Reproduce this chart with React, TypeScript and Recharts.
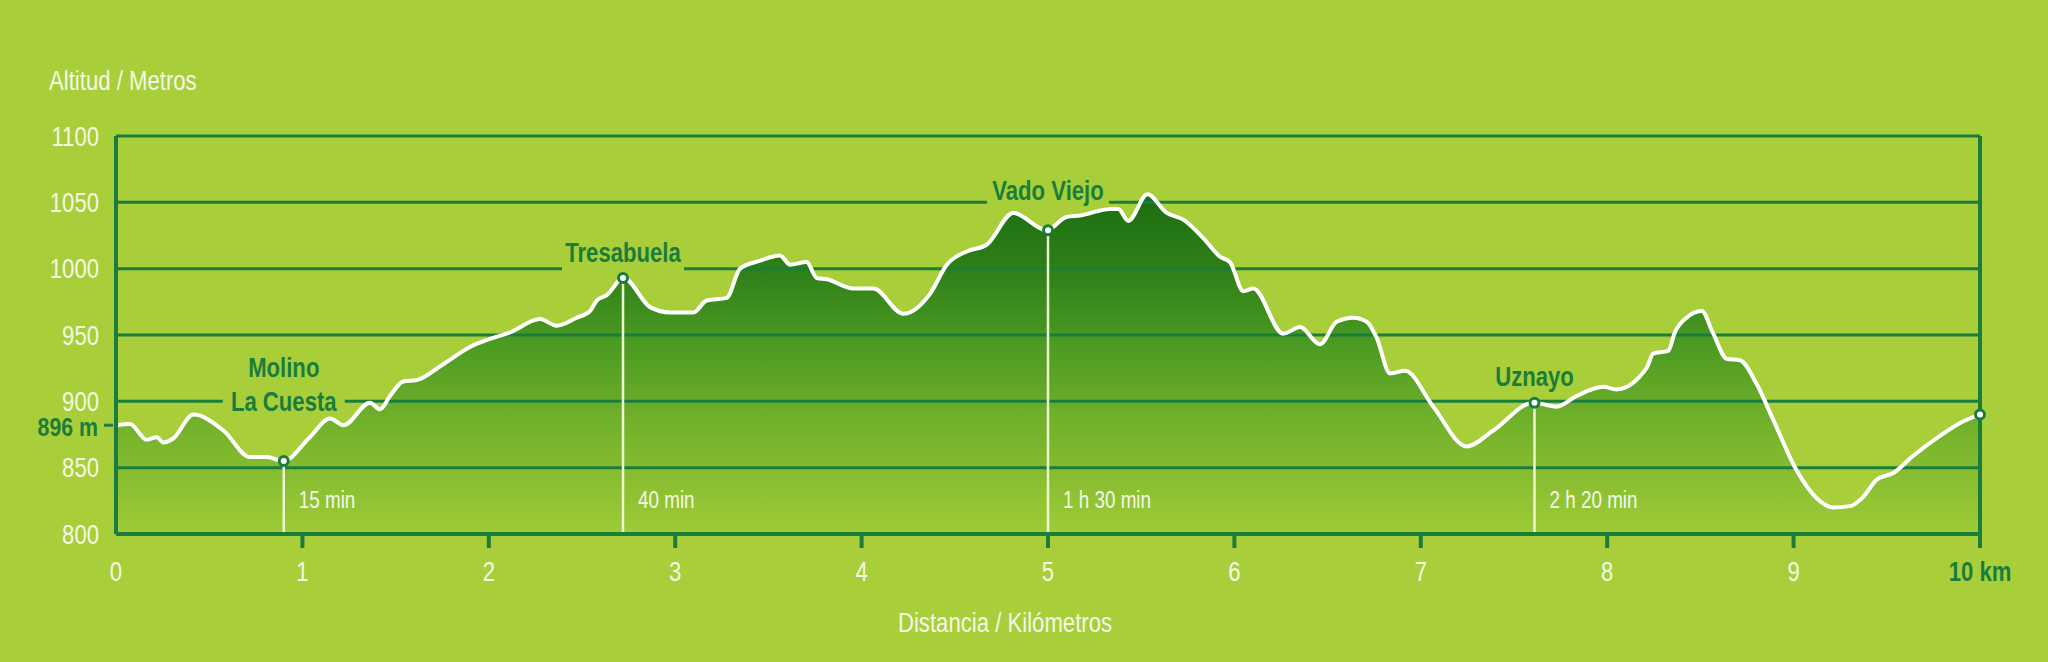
import React from 'react';
import { ComposedChart, Area, Line, XAxis, YAxis, ReferenceLine, ReferenceDot } from 'recharts';

// ---- elevation profile (km, metres) ----
const distanceKm = [
  0, 0.075, 0.165, 0.218, 0.254, 0.307, 0.415, 0.576, 0.719, 0.808,
  0.898, 1.04, 1.148, 1.22, 1.363, 1.416, 1.47, 1.541, 1.613, 1.756,
  1.899, 2.006, 2.114, 2.275, 2.364, 2.472, 2.543, 2.579, 2.633, 2.722,
  2.865, 2.972, 3.097, 3.169, 3.276, 3.348, 3.455, 3.562, 3.616, 3.705,
  3.759, 3.813, 3.956, 4.063, 4.224, 4.367, 4.457, 4.564, 4.671, 4.814,
  4.993, 5.1, 5.172, 5.333, 5.377, 5.431, 5.533, 5.637, 5.726, 5.833,
  5.923, 5.976, 6.048, 6.101, 6.262, 6.352, 6.459, 6.549, 6.638, 6.71,
  6.763, 6.835, 6.915, 7.067, 7.246, 7.389, 7.604, 7.729, 7.836, 7.979,
  8.05, 8.211, 8.247, 8.327, 8.363, 8.426, 8.507, 8.569, 8.641, 8.712,
  8.802, 8.891, 9.016, 9.124, 9.213, 9.303, 9.374, 9.446, 9.535, 9.642,
  9.785, 9.911, 10,
];
const elevationM = [
  882, 883, 871, 873, 869, 872, 890, 878, 858, 858,
  855, 873, 887, 882, 899, 894, 904, 915, 916, 928,
  941, 947, 952, 962, 957, 963, 968, 976, 980, 993,
  971, 967, 967, 976, 978, 1000, 1006, 1010, 1003, 1005,
  993, 992, 985, 985, 966, 981, 1003, 1013, 1018, 1042,
  1029, 1039, 1040, 1045, 1045, 1036, 1056, 1042, 1037, 1023,
  1009, 1005, 983, 985, 951, 956, 943, 960, 963, 960,
  948, 921, 923, 896, 866, 878, 899, 896, 904, 911,
  909, 925, 936, 938, 952, 963, 968, 951, 932, 931,
  913, 886, 848, 827, 820, 821, 828, 841, 846, 859,
  874, 885, 890,
];

// ---- axes ----
const yTicks = [800, 850, 900, 950, 1000, 1050, 1100];
const xTicks = [0, 1, 2, 3, 4, 5, 6, 7, 8, 9, 10];
const xTickLabels = ['0', '1', '2', '3', '4', '5', '6', '7', '8', '9', '10 km'];
const yTitle = 'Altitud / Metros';
const xTitle = 'Distancia / Kilómetros';
const startLabel = '896 m';

// ---- waypoints ----
const waypointNames = [['Molino', 'La Cuesta'], ['Tresabuela'], ['Vado Viejo'], ['Uznayo']];
const waypointKm = [0.9, 2.72, 5.0, 7.61];
const waypointAlt = [855, 993, 1029, 899];
const waypointLabelAlt = [900, 1012, 1059, 919];
const waypointGapAlt: (number | null)[] = [900, 1000, 1050, null];
const waypointTimes = ['15 min', '40 min', '1 h 30 min', '2 h 20 min'];
const timeLabelAlt = 826;
const endKm = 10;
const endAlt = 890;

const data = distanceKm.map((km, i) => ({ km, alt: elevationM[i] }));

const BG = '#a8cf3a';
const GREEN = '#1a7d3c';
const WHITE = '#f4f8e6';
const FONT = "'Liberation Sans', Arial, sans-serif";
const SQ = 0.82; // horizontal condensing

const NText = (p: {
  x: number; y: number; anchor: 'start' | 'middle' | 'end'; size: number;
  bold?: boolean; fill: string; children: React.ReactNode;
}) => (
  <g transform={`translate(${p.x},${p.y}) scale(${SQ},1)`}>
    <text
      x={0}
      y={0}
      dy="0.36em"
      textAnchor={p.anchor}
      fontFamily={FONT}
      fontSize={p.size}
      fontWeight={p.bold ? 700 : 400}
      fill={p.fill}
    >
      {p.children}
    </text>
  </g>
);

const XTick = (props: any) => {
  const { x, y, payload } = props;
  const v = payload.value;
  const idx = xTicks.indexOf(v);
  const last = v === 10;
  return (
    <g>
      {v !== 0 && (
        <line x1={x} x2={x} y1={y - 27} y2={y - 13} stroke={GREEN} strokeWidth={4} />
      )}
      <NText x={x} y={y + 10} anchor="middle" size={27} bold={last} fill={last ? GREEN : WHITE}>
        {xTickLabels[idx]}
      </NText>
    </g>
  );
};

const YTick = (props: any) => {
  const { x, y, payload } = props;
  return (
    <NText x={x} y={y} anchor="end" size={27} fill={WHITE}>
      {payload.value}
    </NText>
  );
};

const MarkerShape = (props: any) => {
  const { cx, cy } = props;
  return <circle cx={cx} cy={cy} r={4.5} fill="#ffffff" stroke={GREEN} strokeWidth={3} />;
};

const GapShape = (props: any) => {
  const { cx, cy } = props;
  return <rect x={cx - 61} y={cy - 5} width={122} height={10} fill={BG} />;
};

const makeNameShape = (lines: string[]) => (props: any) => {
  const { cx, cy } = props;
  const n = lines.length;
  return (
    <g>
      {lines.map((ln, i) => (
        <NText key={i} x={cx} y={cy - (n - 1 - i) * 34} anchor="middle" size={27} bold fill={GREEN}>
          {ln}
        </NText>
      ))}
    </g>
  );
};

const makeTimeShape = (label: string) => (props: any) => {
  const { cx, cy } = props;
  return (
    <NText x={cx + 15} y={cy} anchor="start" size={23} fill={WHITE}>
      {label}
    </NText>
  );
};

const StartShape = (props: any) => {
  const { cx, cy } = props;
  return (
    <g>
      <line x1={cx - 12} x2={cx - 3} y1={cy} y2={cy} stroke={GREEN} strokeWidth={3} />
      <NText x={cx - 18} y={cy + 1} anchor="end" size={26} bold fill={GREEN}>
        {startLabel}
      </NText>
    </g>
  );
};

export default function App() {
  return (
    <div
      style={{
        position: 'absolute',
        left: 0,
        top: 0,
        width: 2048,
        height: 662,
        background: BG,
        overflow: 'hidden',
        fontFamily: FONT,
      }}
    >
      <div
        style={{
          position: 'absolute',
          left: 49,
          top: 66,
          fontSize: 27,
          lineHeight: '30px',
          color: WHITE,
          whiteSpace: 'nowrap',
          transform: `scaleX(${SQ})`,
          transformOrigin: 'left center',
        }}
      >
        {yTitle}
      </div>
      <div
        style={{
          position: 'absolute',
          left: 0,
          width: 2010,
          top: 608,
          fontSize: 27,
          lineHeight: '30px',
          color: WHITE,
          textAlign: 'center',
          whiteSpace: 'nowrap',
          transform: `scaleX(${SQ})`,
          transformOrigin: '1005px center',
        }}
      >
        {xTitle}
      </div>
      <ComposedChart
        width={2048}
        height={662}
        data={data}
        margin={{ top: 136, right: 68, bottom: 68, left: 16 }}
        style={{ position: 'absolute', left: 0, top: 0 }}
      >
        <defs>
          <linearGradient id="elevFill" gradientUnits="userSpaceOnUse" x1="0" y1="136" x2="0" y2="534">
            <stop offset="0" stopColor="#156510" />
            <stop offset="0.15" stopColor="#1b6e12" />
            <stop offset="0.34" stopColor="#2f8019" />
            <stop offset="0.52" stopColor="#4b9a22" />
            <stop offset="0.72" stopColor="#72b12b" />
            <stop offset="1" stopColor="#9fcb37" />
          </linearGradient>
        </defs>
        <XAxis
          dataKey="km"
          type="number"
          domain={[0, 10]}
          ticks={xTicks}
          height={60}
          tickSize={12}
          tickMargin={15}
          tickLine={false}
          axisLine={{ stroke: GREEN, strokeWidth: 4 }}
          tick={<XTick />}
          interval={0}
        />
        <YAxis
          type="number"
          domain={[800, 1100]}
          ticks={yTicks}
          width={100}
          tickSize={6}
          tickMargin={11}
          tickLine={false}
          axisLine={{ stroke: GREEN, strokeWidth: 4 }}
          tick={<YTick />}
          interval={0}
        />
        <Area
          dataKey="alt"
          type="monotone"
          stroke="none"
          fill="url(#elevFill)"
          fillOpacity={1}
          isAnimationActive={false}
          zIndex={100}
        />
        {yTicks.slice(1).map((v) => (
          <ReferenceLine key={'g' + v} y={v} stroke={GREEN} strokeWidth={3} zIndex={150} />
        ))}
        <ReferenceLine x={10} stroke={GREEN} strokeWidth={4} zIndex={150} />
        {waypointKm.map((km, i) => (
          <ReferenceLine
            key={'v' + i}
            segment={[{ x: km, y: 800 }, { x: km, y: waypointAlt[i] }]}
            stroke="#eef6cf"
            strokeWidth={2.5}
            zIndex={160}
          />
        ))}
        <Line
          dataKey="alt"
          type="monotone"
          stroke="#ffffff"
          strokeWidth={4}
          strokeLinejoin="round"
          dot={false}
          activeDot={false}
          isAnimationActive={false}
          zIndex={400}
        />
        {waypointKm.map((km, i) =>
          waypointGapAlt[i] !== null ? (
            <ReferenceDot key={'gap' + i} x={km} y={waypointGapAlt[i] as number} r={0} shape={GapShape} zIndex={600} />
          ) : null
        )}
        {waypointKm.map((km, i) => (
          <ReferenceDot key={'n' + i} x={km} y={waypointLabelAlt[i]} r={0} shape={makeNameShape(waypointNames[i])} zIndex={610} />
        ))}
        {waypointKm.map((km, i) => (
          <ReferenceDot key={'t' + i} x={km} y={timeLabelAlt} r={0} shape={makeTimeShape(waypointTimes[i])} zIndex={610} />
        ))}
        {waypointKm.map((km, i) => (
          <ReferenceDot key={'m' + i} x={km} y={waypointAlt[i]} r={5} shape={MarkerShape} zIndex={620} />
        ))}
        <ReferenceDot x={endKm} y={endAlt} r={5} shape={MarkerShape} zIndex={620} />
        <ReferenceDot x={distanceKm[0]} y={elevationM[0]} r={0} shape={StartShape} zIndex={620} />
      </ComposedChart>
    </div>
  );
}
